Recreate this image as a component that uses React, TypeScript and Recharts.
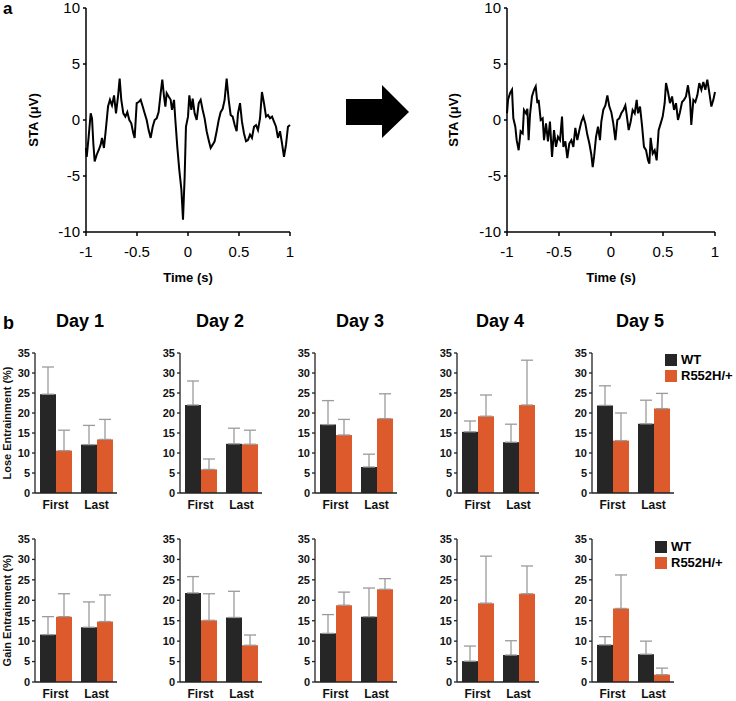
import React from 'react';
import { LineChart, Line, XAxis, YAxis, BarChart, Bar, ErrorBar, Legend } from 'recharts';

const FONT = '"Liberation Sans", Arial, Helvetica, sans-serif';

// panel a: spike-triggered average [time (s), STA (uV)]
const staBefore: [number, number][] = [
  [-1.0, -2.5], [-0.993, -3.3], [-0.974, -1.5], [-0.954, 0.6], [-0.941, 0.15], [-0.928, -2.1],
  [-0.915, -3.7], [-0.895, -3.1], [-0.876, -2.7], [-0.856, -2.2], [-0.843, -1.6], [-0.824, -2.5],
  [-0.804, -0.7], [-0.784, 1.2], [-0.765, 1.8], [-0.745, 1.3], [-0.725, 2.2], [-0.706, 0.6],
  [-0.686, 2.1], [-0.67, 3.7], [-0.654, 1.8], [-0.634, 0.6], [-0.614, 0.3], [-0.595, 0.7],
  [-0.575, 0], [-0.556, -0.3], [-0.536, -1.2], [-0.523, -1.6], [-0.503, 1.5], [-0.484, 1.6],
  [-0.464, 1.8], [-0.444, 1.2], [-0.425, 0.6], [-0.405, 0], [-0.386, -0.9], [-0.366, -1.6],
  [-0.346, -0.6], [-0.327, 0], [-0.307, 0.15], [-0.288, 0.7], [-0.268, 2.4], [-0.252, 3.6],
  [-0.235, 2.1], [-0.222, 1.2], [-0.209, 2.4], [-0.19, 2.1], [-0.17, 1.8], [-0.157, 0.9],
  [-0.137, 1.8], [-0.124, 0], [-0.105, -2.4], [-0.085, -4.5], [-0.065, -6.2], [-0.049, -8.9],
  [-0.033, -5.1], [-0.02, -0.6], [0.0, 0.3], [0.013, 2.2], [0.033, 0.9], [0.046, 1.9],
  [0.065, 0.6], [0.085, 0], [0.105, 1.5], [0.124, 1.8], [0.144, 0.9], [0.163, 0.15],
  [0.183, -1.0], [0.203, -1.8], [0.222, -2.5], [0.242, -2.2], [0.261, -1.9], [0.281, -1.0],
  [0.301, 0], [0.32, 0.7], [0.34, 1.0], [0.359, 1.8], [0.379, 3.7], [0.399, 1.8],
  [0.418, 0.45], [0.438, 0.3], [0.458, -0.45], [0.477, -1.0], [0.49, 0.6], [0.51, 1.5],
  [0.529, -0.15], [0.549, -1.2], [0.569, -1.9], [0.588, -1.8], [0.608, -1.3], [0.627, -1.6],
  [0.647, -0.6], [0.667, -0.45], [0.686, -0.9], [0.706, 0.15], [0.725, 2.5], [0.745, 1.5],
  [0.765, 0.3], [0.784, 0.45], [0.804, 0.15], [0.824, 0.3], [0.843, -0.15], [0.863, -0.6],
  [0.882, -1.6], [0.902, -1.0], [0.922, -2.1], [0.941, -3.3], [0.961, -2.2], [0.98, -0.6],
  [1.0, -0.45],
];

const staAfter: [number, number][] = [
  [-1.0, 0.6], [-0.99, 1.8], [-0.971, 2.4], [-0.952, 2.7], [-0.939, 0.15], [-0.92, -0.6],
  [-0.907, -1.8], [-0.888, -2.7], [-0.869, -1.0], [-0.849, -1.2], [-0.837, 0.9], [-0.817, 0.6],
  [-0.804, 1.0], [-0.792, -1.8], [-0.779, 0.45], [-0.76, 2.1], [-0.74, 2.7], [-0.724, 3.0],
  [-0.708, 1.5], [-0.696, 1.8], [-0.676, 0], [-0.657, 0.15], [-0.644, -1.8], [-0.625, -0.3],
  [-0.606, -1.9], [-0.587, -0.15], [-0.567, -3.3], [-0.548, -0.9], [-0.529, -2.4], [-0.51, -1.5],
  [-0.49, -1.8], [-0.471, 0.3], [-0.458, -2.4], [-0.439, -1.9], [-0.42, -3.4], [-0.401, -2.1],
  [-0.381, -1.8], [-0.362, -2.4], [-0.343, -0.7], [-0.324, -1.8], [-0.304, -0.9], [-0.285, -0.15],
  [-0.266, 0.3], [-0.247, -0.3], [-0.228, -1.3], [-0.208, -2.1], [-0.189, -3.1], [-0.176, -4.2],
  [-0.163, -3.3], [-0.144, -1.5], [-0.125, -0.6], [-0.106, -1.8], [-0.093, -0.15], [-0.074, 0.9],
  [-0.054, 1.3], [-0.035, 2.2], [-0.016, 1.2], [0.003, 0.7], [0.022, -0.3], [0.042, -1.8],
  [0.061, 0], [0.08, 0.15], [0.099, 0.6], [0.119, 0.9], [0.138, 1.3], [0.151, 0.45],
  [0.17, -0.9], [0.189, -0.15], [0.208, 0.9], [0.228, 0.6], [0.247, 1.8], [0.26, 0.6],
  [0.279, 1.2], [0.298, -0.45], [0.317, -2.4], [0.337, -2.7], [0.356, -3.6], [0.369, -3.9],
  [0.381, -1.6], [0.401, -3.0], [0.42, -2.7], [0.439, -3.6], [0.458, -0.9], [0.478, -0.3],
  [0.497, 0.3], [0.516, 1.5], [0.529, 3.3], [0.548, 2.5], [0.567, 1.5], [0.587, 2.1],
  [0.606, 0.9], [0.625, 1.5], [0.644, 0], [0.663, 0.7], [0.683, 1.6], [0.702, 1.8],
  [0.721, 2.1], [0.74, 3.1], [0.76, 1.8], [0.772, -0.45], [0.792, 1.8], [0.811, 1.6],
  [0.83, 2.2], [0.849, 3.3], [0.869, 2.7], [0.888, 3.4], [0.907, 2.7], [0.926, 3.6],
  [0.946, 2.4], [0.965, 1.2], [0.984, 1.8], [1.0, 2.5],
];

const timeTicks = [-1, -0.5, 0, 0.5, 1];
const staTicks = [-10, -5, 0, 5, 10];

// panel b: per day, [First, Last]
const days = ['Day 1', 'Day 2', 'Day 3', 'Day 4', 'Day 5'];
const sessions = ['First', 'Last'];
const pctTicks = [0, 5, 10, 15, 20, 25, 30, 35];

const loseWT = [[24.7, 12.1], [22.0, 12.3], [17.1, 6.5], [15.3, 12.7], [21.9, 17.3]];
const loseWTErr = [[6.8, 4.8], [6.0, 3.9], [6.0, 3.2], [2.7, 4.5], [4.9, 5.9]];
const loseMut = [[10.6, 13.4], [5.9, 12.2], [14.5, 18.6], [19.2, 22.0], [13.1, 21.1]];
const loseMutErr = [[5.1, 5.0], [2.6, 3.5], [3.9, 6.2], [5.3, 11.2], [6.9, 3.8]];

const gainWT = [[11.6, 13.4], [21.8, 15.8], [11.9, 16.0], [5.1, 6.6], [9.1, 6.8]];
const gainWTErr = [[4.4, 6.2], [4.0, 6.4], [4.6, 7.0], [3.7, 3.5], [2.0, 3.2]];
const gainMut = [[16.0, 14.8], [15.1, 9.0], [18.8, 22.7], [19.3, 21.6], [18.0, 1.8]];
const gainMutErr = [[5.6, 6.5], [6.5, 2.5], [3.2, 2.6], [11.5, 6.8], [8.2, 1.6]];

const WT_COLOR = '#262626';
const MUT_COLOR = '#dc5a2b';
const ERR_COLOR = '#9b9b9b';

const panelLefts = [0, 145, 280, 422, 557];
const dayCenters = [80, 220, 360, 500, 640];

const buildRows = (wt: number[][], wtErr: number[][], mut: number[][], mutErr: number[][], d: number) =>
  sessions.map((s, i) => ({
    name: s,
    wt: wt[d][i],
    wtErr: [0, wtErr[d][i]],
    mut: mut[d][i],
    mutErr: [0, mutErr[d][i]],
  }));

function StaPanel({ trace, left, width, axisW }: { trace: [number, number][]; left: number; width: number; axisW: number }) {
  const data = trace.map(([t, v]) => ({ t, v }));
  return (
    <div style={{ position: 'absolute', left, top: 0 }}>
      <LineChart width={width} height={290} data={data} margin={{ top: 8, right: 10, bottom: 8, left: 0 }}>
        <XAxis
          dataKey="t"
          type="number"
          domain={[-1, 1]}
          ticks={timeTicks}
          interval={0}
          height={50}
          tickSize={4}
          tickMargin={10}
          stroke="#000"
          strokeWidth={1.5}
          tick={{ fontSize: 15, fill: '#000' }}
          label={{ value: 'Time (s)', position: 'insideBottom', offset: 0, fontSize: 13, fontWeight: 'bold', fill: '#000' }}
        />
        <YAxis
          type="number"
          domain={[-10, 10]}
          ticks={staTicks}
          interval={0}
          width={axisW}
          tickSize={3}
          tickMargin={3}
          stroke="#000"
          strokeWidth={1.5}
          tick={{ fontSize: 15, fill: '#000' }}
          label={{ value: 'STA (\u03bcV)', angle: -90, position: 'center', dx: -10, fontSize: 13, fontWeight: 'bold', fill: '#000' }}
        />
        <Line type="linear" dataKey="v" stroke="#000" strokeWidth={2} dot={false} isAnimationActive={false} />
      </LineChart>
    </div>
  );
}

function DayPanel({
  rows, left, top, plotH, yLabel, legendPos,
}: {
  rows: any[]; left: number; top: number; plotH: number; yLabel?: string; legendPos?: { left: number; top: number };
}) {
  const width = legendPos ? 179 : 122;
  return (
    <div style={{ position: 'absolute', left, top }}>
      <BarChart
        width={width}
        height={8 + plotH + 22}
        data={rows}
        margin={{ top: 8, right: width - 35 - 82, bottom: 0, left: 0 }}
        barCategoryGap={5}
        barGap={0}
      >
        <XAxis
          dataKey="name"
          tickLine={false}
          tickMargin={1}
          height={22}
          stroke="#222"
          strokeWidth={1.3}
          tick={{ fontSize: 12, fontWeight: 'bold', fill: '#111' }}
        />
        <YAxis
          type="number"
          domain={[0, 35]}
          ticks={pctTicks}
          interval={0}
          width={35}
          tickSize={3}
          tickMargin={2}
          stroke="#222"
          strokeWidth={1.3}
          tick={{ fontSize: 11, fontWeight: 'bold', fill: '#111' }}
          label={yLabel ? { value: yLabel, angle: -90, position: 'center', dx: -10, fontSize: 11, fontWeight: 'bold', fill: '#111' } : undefined}
        />
        <Bar dataKey="wt" name="WT" fill={WT_COLOR} isAnimationActive={false}>
          <ErrorBar dataKey="wtErr" direction="y" width={6} stroke={ERR_COLOR} strokeWidth={1.3} />
        </Bar>
        <Bar dataKey="mut" name="R552H/+" fill={MUT_COLOR} isAnimationActive={false}>
          <ErrorBar dataKey="mutErr" direction="y" width={6} stroke={ERR_COLOR} strokeWidth={1.3} />
        </Bar>
        {legendPos && (
          <Legend
            layout="vertical"
            align="center"
            verticalAlign="middle"
            iconType="square"
            iconSize={12}
            itemSorter={(item: any) => (item.value === 'WT' ? 0 : 1)}
            wrapperStyle={{ position: 'absolute', left: legendPos.left, top: legendPos.top, width: 'auto', lineHeight: '15px' }}
            formatter={(v: string) => <span style={{ color: '#000', fontWeight: 'bold', fontSize: 13 }}>{v}</span>}
          />
        )}
      </BarChart>
    </div>
  );
}

export default function App() {
  return (
    <div style={{ position: 'absolute', left: 0, top: 0, width: 736, height: 701, background: '#fff', fontFamily: FONT, overflow: 'hidden' }}>
      <div style={{ position: 'absolute', left: 3, top: 0, fontSize: 17, lineHeight: '17px', fontWeight: 'bold' }}>a</div>
      <StaPanel trace={staBefore} left={0} width={300} axisW={86} />
      <svg style={{ position: 'absolute', left: 346, top: 85 }} width={64} height={54}>
        <polygon points="0,14 36,14 36,0 63,27 36,53 36,40 0,40" fill="#000" />
      </svg>
      <StaPanel trace={staAfter} left={420} width={305} axisW={87} />

      <div style={{ position: 'absolute', left: 3, top: 313, fontSize: 18, fontWeight: 'bold' }}>b</div>
      {days.map((d, i) => (
        <div
          key={d}
          style={{ position: 'absolute', left: dayCenters[i] - 50, top: 311, width: 100, textAlign: 'center', fontSize: 18, fontWeight: 'bold' }}
        >
          {d}
        </div>
      ))}
      {days.map((d, i) => (
        <DayPanel
          key={'lose' + d}
          rows={buildRows(loseWT, loseWTErr, loseMut, loseMutErr, i)}
          left={panelLefts[i]}
          top={345}
          plotH={140}
          yLabel={i === 0 ? 'Lose Entrainment (%)' : undefined}
          legendPos={i === 4 ? { left: 108, top: 6 } : undefined}
        />
      ))}
      {days.map((d, i) => (
        <DayPanel
          key={'gain' + d}
          rows={buildRows(gainWT, gainWTErr, gainMut, gainMutErr, i)}
          left={panelLefts[i]}
          top={531}
          plotH={143}
          yLabel={i === 0 ? 'Gain Entrainment (%)' : undefined}
          legendPos={i === 4 ? { left: 98, top: 7 } : undefined}
        />
      ))}
    </div>
  );
}
